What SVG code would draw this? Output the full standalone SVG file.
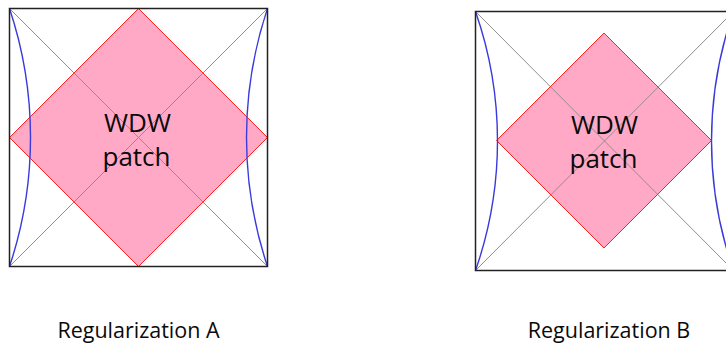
<svg xmlns="http://www.w3.org/2000/svg" width="726" height="343" viewBox="0 0 726 343">
<style>
.bg{fill:#ffffff}
.sq{fill:none;stroke:#222;stroke-width:1.5}
.diag{stroke:#8f8f8f;stroke-width:1;fill:none}
.dia{fill:#ffa9c6;stroke:none}
.diaE{fill:none;stroke:#ff2020;stroke-width:1}
.arc{fill:none;stroke:#3a3adc;stroke-width:1.4}
.lbl{font-family:"Open Sans","Liberation Sans",sans-serif;font-size:26px;fill:#0a0a0a;text-anchor:middle}
.cap{font-family:"Open Sans","Liberation Sans",sans-serif;font-size:21.5px;fill:#0a0a0a;text-anchor:middle}
</style>
<rect class="bg" x="0" y="0" width="726" height="343"/>
<g id="panelA">
  <polygon class="dia" points="138.5,8.5 267.5,137.5 138.5,266.5 9.5,137.5"/>
  <line class="diag" x1="9.5" y1="8.5" x2="267.5" y2="266.5"/>
  <line class="diag" x1="267.5" y1="8.5" x2="9.5" y2="266.5"/>
  <polygon class="diaE" points="138.5,8.5 267.5,137.5 138.5,266.5 9.5,137.5"/>
  <path class="arc" d="M9.5,8.5 A406.7,406.7 0 0 1 9.5,266.5"/>
  <path class="arc" d="M267.5,8.5 A406.7,406.7 0 0 0 267.5,266.5"/>
  <rect class="sq" x="9.5" y="8.5" width="258" height="258"/>
  <text class="lbl" x="137.5" y="131.5">WDW</text>
  <text class="lbl" x="136.5" y="166">patch</text>
  <text class="cap" x="138.5" y="338">Regularization A</text>
</g>
<g id="panelB">
  <polygon class="dia" points="604,33 711.5,140.5 604,248 496.5,140.5"/>
  <line class="diag" x1="475.5" y1="11.5" x2="733.5" y2="270.5"/>
  <line class="diag" x1="733.5" y1="11.5" x2="475.5" y2="270.5"/>
  <polygon class="diaE" points="604,33 711.5,140.5 604,248 496.5,140.5"/>
  <path class="arc" d="M475.5,11.5 A392.1,392.1 0 0 1 475.5,270.5"/>
  <path class="arc" d="M733.5,11.5 A392.1,392.1 0 0 0 733.5,270.5"/>
  <rect class="sq" x="475.5" y="11.5" width="258" height="259"/>
  <text class="lbl" x="604.5" y="133.5">WDW</text>
  <text class="lbl" x="603.5" y="168">patch</text>
  <text class="cap" x="609" y="338">Regularization B</text>
</g>
</svg>
